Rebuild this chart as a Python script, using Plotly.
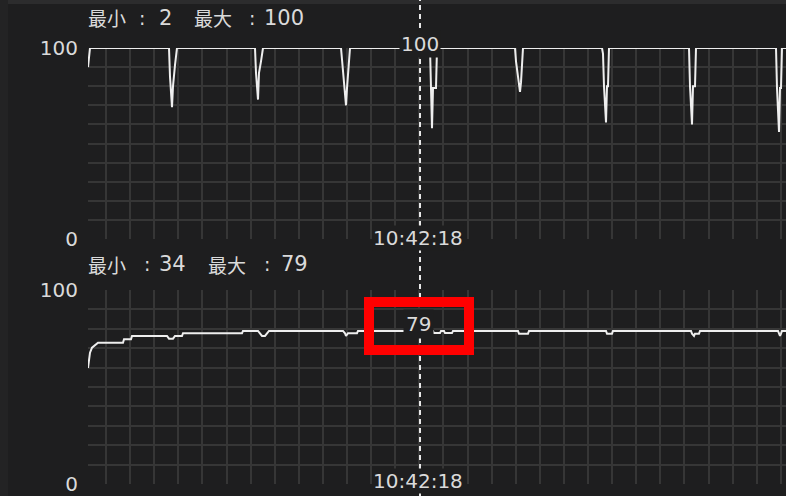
import plotly.graph_objects as go

W, H = 786, 496

# ---- data (sample index -> value) ----
top_t = [0, 2, 81, 82, 84, 85, 87, 89,
         167, 168, 170, 171, 173, 175,
         253, 254, 256, 258, 259, 260, 262,
         342, 343, 344, 345, 348, 349,
         427, 428, 430, 432, 433, 434, 435,
         514, 515, 516, 518, 519, 520, 521,
         601, 602, 604, 605, 607, 608,
         688, 689, 691, 692, 693, 694, 698]
top_v = [90, 100, 100, 85, 69, 80, 91, 100,
         100, 87, 73, 87, 93, 100,
         100, 94, 79, 70, 79, 87, 100,
         100, 79, 58, 79, 79, 100,
         100, 93, 84, 77, 82, 90, 100,
         100, 97, 80, 61, 80, 80, 100,
         100, 80, 60, 80, 80, 100,
         100, 79, 56, 79, 79, 100, 100]

bot_t = [0, 1, 2, 4, 7, 10, 35, 36, 43, 44, 79, 81, 85, 87, 94, 95,
         154, 155, 170, 172, 174, 177, 179, 181,
         255, 257, 258, 260, 269, 270,
         345, 346, 352, 353, 356, 357, 364, 365,
         430, 431, 440, 441,
         518, 519, 524, 525,
         603, 604, 606, 607, 611, 612,
         690, 691, 692, 693, 694, 698]
bot_v = [59.8, 64.5, 67.7, 70.3, 71.8, 72.8, 72.8, 74.6, 74.6, 76.3, 76.3, 74.9, 74.9, 76.3, 76.3, 77.7,
         77.7, 78.9, 78.9, 77.7, 76.3, 76.3, 77.7, 78.9,
         78.9, 77.7, 76.3, 77.7, 77.7, 78.9,
         78.9, 77.8, 77.8, 78.9, 78.9, 77.8, 77.8, 78.9,
         78.9, 77.5, 77.5, 78.9,
         78.9, 77.5, 77.5, 78.9,
         78.9, 77.5, 76.3, 77.5, 77.5, 78.9,
         78.9, 77.5, 76.3, 77.5, 78.9, 78.9]

cross_t = 332
cross_time = "10:42:18"
top_cross_val = "100"
bot_cross_val = "79"

top_title = [("最小", "k"), (":", "c"), ("2", "d"), ("最大", "k"), (":", "c"), ("100", "d")]
bot_title = [("最小", "k"), (":", "c"), ("34", "d"), ("最大", "k"), (":", "c"), ("79", "d")]

y_ticks = list(range(0, 101, 10))
y_ticktext = ["0"] + [""] * 9 + ["100"]

# ---- style ----
BG = "#1e1e1f"
GRID = "#363636"
LINE = "#eeeeee"
TXT = "#dadada"
KFONT = "Noto Sans CJK JP"
DFONT = "DejaVu Sans"

x_range = [0, 698]
x_dom = [88 / W, 1.0]
top_dom = [(H - 239) / H, (H - 48) / H]
bot_dom = [(H - 484) / H, (H - 290) / H]

fig = go.Figure()
fig.add_trace(go.Scatter(x=top_t, y=top_v, mode="lines", line=dict(color=LINE, width=2),
                         xaxis="x", yaxis="y", hoverinfo="skip"))
fig.add_trace(go.Scatter(x=bot_t, y=bot_v, mode="lines", line=dict(color=LINE, width=2),
                         xaxis="x2", yaxis="y2", hoverinfo="skip"))

xcommon = dict(range=x_range, domain=x_dom, showgrid=True, gridcolor=GRID, gridwidth=2,
               tick0=18, dtick=24.1, showticklabels=False, zeroline=False, showline=False,
               ticks="", fixedrange=True)
ycommon = dict(range=[0, 100], showgrid=True, gridcolor=GRID, gridwidth=2,
               tickmode="array", tickvals=y_ticks, ticktext=y_ticktext,
               tickfont=dict(family=DFONT, size=20, color=TXT), ticks="",
               zeroline=False, showline=False, automargin=False, ticklabelstandoff=9)

fig.update_layout(
    width=W, height=H, margin=dict(l=0, r=0, t=0, b=0),
    paper_bgcolor=BG, plot_bgcolor=BG, showlegend=False,
    xaxis=dict(**xcommon, anchor="y"),
    yaxis=dict(**ycommon, domain=top_dom, anchor="x"),
    xaxis2=dict(**xcommon, anchor="y2", matches="x"),
    yaxis2=dict(**ycommon, domain=bot_dom, anchor="x2"),
)

shapes = [
    dict(type="rect", xref="paper", yref="paper", x0=0, x1=1, y0=1 - 4 / H, y1=1,
         fillcolor="#2c2c2d", line=dict(width=0), layer="below"),
    dict(type="rect", xref="paper", yref="paper", x0=0, x1=8 / W, y0=0, y1=1,
         fillcolor="#232324", line=dict(width=0), layer="below"),
    dict(type="line", xref="x", yref="paper", x0=cross_t, x1=cross_t, y0=0, y1=1,
         line=dict(color="#e8e8e8", width=2, dash="5px,4px"), layer="above"),
    # red highlight box around the bottom crosshair value
    dict(type="rect", xref="x2", yref="y2", x0=cross_t - 51, x1=cross_t + 49,
         y0=69.1, y1=93.8, line=dict(color="#ff0000", width=10), layer="above"),
]
fig.update_layout(shapes=shapes)

ann = []


def title(parts, xs, ypx):
    for (txt, kind), xp in zip(parts, xs):
        if kind == "k":
            f = dict(family=KFONT, size=19, color=TXT)
            xa = "left"
        elif kind == "c":
            f = dict(family=DFONT, size=19, color=TXT)
            xa = "center"
        else:
            f = dict(family=DFONT, size=21, color=TXT)
            xa = "left"
        ann.append(dict(text=txt, x=xp / W, y=1 - ypx / H, xref="paper", yref="paper",
                        xanchor=xa, yanchor="middle", showarrow=False, font=f))


title(top_title, [86, 142, 157, 192, 252, 262], 18)
title(bot_title, [86, 147, 157, 206, 267, 279], 264)

lab_font = dict(family=DFONT, size=20, color=TXT)
ann.append(dict(text=top_cross_val, x=cross_t, y=100, xref="x", yref="y", showarrow=False,
                yshift=4, font=lab_font, bgcolor=BG, borderpad=1))
ann.append(dict(text=bot_cross_val, x=cross_t, y=79, xref="x2", yref="y2", showarrow=False,
                yshift=7, xshift=-2, font=lab_font, bgcolor=BG, borderpad=2))
ann.append(dict(text=cross_time, x=cross_t, y=0, xref="x", yref="y", showarrow=False,
                yshift=1, xshift=-2, font=lab_font, bgcolor=BG, borderpad=0))
ann.append(dict(text=cross_time, x=cross_t, y=0, xref="x2", yref="y2", showarrow=False,
                yshift=3, xshift=-2, font=lab_font, bgcolor=BG, borderpad=0))
fig.update_layout(annotations=ann)

fig.write_html("out.html", config={"displayModeBar": False},
               post_script="document.body.style.margin='0';document.body.style.background='%s';" % BG)
